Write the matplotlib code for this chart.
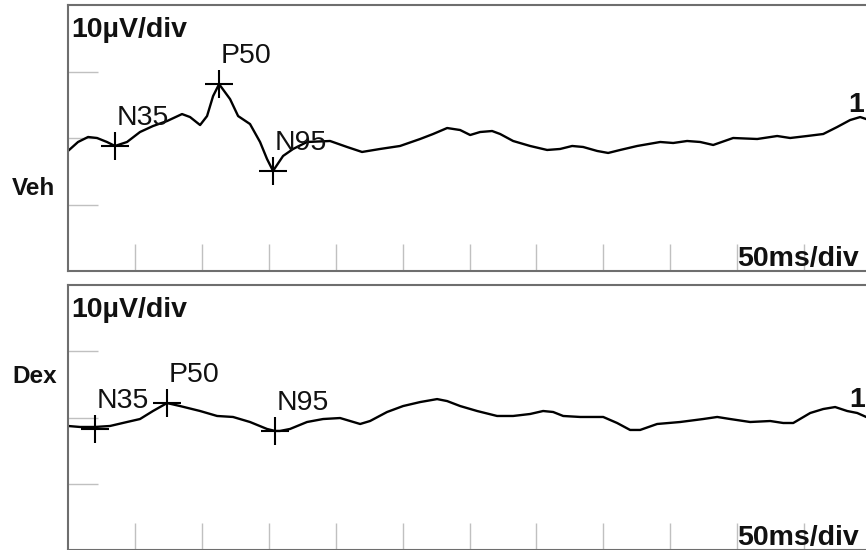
import matplotlib
matplotlib.use("Agg")
import matplotlib.pyplot as plt

plt.rcParams["font.family"] = ["Liberation Sans", "DejaVu Sans"]

# ---------------- data (time in ms, amplitude in µV) ----------------
veh_t = [0, 7.5, 15, 21.7, 29.1, 35.1, 44.1, 53.8, 63.5, 74, 85.2, 91.2, 98.7,
         103.9, 108.4, 112.9, 121.1, 127.1, 136, 143.5, 148.7, 153.2, 160.7,
         168.2, 178.6, 195.8, 208.5, 219.7, 233.2, 248.1, 263.1, 272.8, 283.3,
         293, 300.5, 307.9, 316.9, 322.9, 332.6, 345.3, 358, 367.7, 376.7,
         384.9, 395.4, 403.6, 412.6, 425.3, 442.5, 452.2, 462.6, 472.4, 482.1,
         497, 515, 529.9, 539.6, 552.3, 564.3, 574.7, 584.4, 591.9, 596.4, 600]
veh_v = [-1.95, -0.6, 0.15, 0.0, -0.6, -1.2, -0.6, 0.9, 1.8, 2.55, 3.6, 3.15,
         1.95, 3.3, 6.3, 8.1, 5.85, 3.3, 2.1, -0.6, -3.15, -4.95, -2.7, -1.65,
         -0.6, -0.45, -1.35, -2.1, -1.65, -1.2, -0.15, 0.6, 1.5, 1.2, 0.45,
         0.9, 1.05, 0.6, -0.45, -1.2, -1.8, -1.65, -1.2, -1.35, -1.95, -2.25,
         -1.8, -1.2, -0.6, -0.75, -0.45, -0.6, -1.05, 0.0, -0.15, 0.3, 0.0,
         0.3, 0.6, 1.65, 2.7, 3.15, 2.85, 2.5]

dex_t = [0, 9, 20.2, 31.4, 44.1, 53.8, 63.5, 74, 83.7, 98.7, 111.4, 123.3, 136,
         148.7, 154.7, 158.4, 165.9, 178.6, 190.6, 203.3, 210.8, 218.3, 225.7,
         238.4, 250.4, 263.1, 275.8, 283.3, 293, 305.7, 320.6, 332.6, 345.3,
         355, 362.5, 370, 382.7, 387.9, 399.9, 410.3, 420, 427.5, 440.2, 457.4,
         474.6, 485.1, 494.8, 509.7, 524.7, 534.4, 541.9, 554.6, 564.3, 573.2,
         582.2, 589.7, 596.4, 600]
dex_v = [-1.28, -1.43, -1.43, -1.28, -0.68, -0.23, 0.98, 2.18, 1.73, 0.98,
         0.23, 0.08, -0.68, -1.73, -2.03, -2.03, -1.73, -0.68, -0.23, -0.08,
         -0.53, -0.98, -0.53, 0.83, 1.73, 2.33, 2.78, 2.48, 1.73, 0.98, 0.23,
         0.23, 0.53, 0.98, 0.83, 0.23, 0.08, 0.08, 0.08, -0.83, -1.88, -1.88,
         -0.98, -0.68, -0.23, 0.08, -0.23, -0.68, -0.53, -0.83, -0.83, 0.68,
         1.28, 1.58, 0.98, 0.68, 0.08, -0.2]

peak_names = ["N35", "P50", "N95"]
veh_peak_t = [35.1, 112.9, 153.2]
veh_peak_v = [-1.2, 8.1, -4.95]
dex_peak_t = [20.2, 74, 154.7]
dex_peak_v = [-1.7, 2.2, -2.1]

group_labels = ["Veh", "Dex"]
xticks_ms = [50, 100, 150, 200, 250, 300, 350, 400, 450, 500, 550]
yticks_uv = [-10, 0, 10]

# ---------------- layout ----------------
W, H = 866, 550
fig = plt.figure(figsize=(W / 100, H / 100), dpi=100)


def px_rect(left, top, right, bottom):
    return [left / W, 1 - bottom / H, (right - left) / W, (bottom - top) / H]


ax1 = fig.add_axes(px_rect(68, 5, 871, 271))
ax2 = fig.add_axes(px_rect(68, 285, 871, 550))

TXT = "#111111"
FS = 20.5
panels = [
    (ax1, veh_t, veh_v, veh_peak_t, veh_peak_v, group_labels[0], 195),
    (ax2, dex_t, dex_v, dex_peak_t, dex_peak_v, group_labels[1], 383),
]

for ax, t, v, pt, pv, glabel, gy in panels:
    ax.set_xlim(0, 600)
    ax.set_ylim(-20, 20)
    ax.plot(t, v, color="black", lw=1.7, solid_joinstyle="round")
    ax.plot(pt, pv, linestyle="none", marker="+", markersize=20,
            markeredgewidth=1.5, color="black")
    for name, x, y in zip(peak_names, pt, pv):
        ax.annotate(name, xy=(x, y), xytext=(2, 21), textcoords="offset pixels",
                    ha="left", va="baseline", fontsize=FS, color=TXT)
    ax.set_xticks(xticks_ms)
    ax.set_yticks(yticks_uv)
    ax.tick_params(axis="x", direction="in", length=19.4, width=1,
                   color="#c0c0c0", labelbottom=False, bottom=True, top=False)
    ax.tick_params(axis="y", direction="in", length=21.6, width=1,
                   color="#c0c0c0", labelleft=False, left=True, right=False)
    for s in ax.spines.values():
        s.set_color("#6e6e6e")
        s.set_linewidth(1.5)
    ax.annotate("10µV/div", xy=(0, 1), xycoords="axes fraction",
                xytext=(3, -32), textcoords="offset pixels",
                ha="left", va="baseline", fontsize=FS, fontweight="bold",
                color=TXT)
    ax.annotate("50ms/div", xy=(500, 0), xycoords=("data", "axes fraction"),
                xytext=(0, 5), textcoords="offset pixels",
                ha="left", va="baseline", fontsize=FS, fontweight="bold",
                color=TXT)
    fig.text(12 / W, 1 - gy / H, glabel, ha="left", va="baseline",
             fontsize=17.5, fontweight="bold", color=TXT)

# partially visible labels at right edge
ax1.annotate("1", xy=(584.4, 2.7), xytext=(-2, 8), textcoords="offset pixels",
             ha="left", va="baseline", fontsize=FS, fontweight="bold", color=TXT)
ax2.annotate("1", xy=(573.2, 1.58), xytext=(14, 0), textcoords="offset pixels",
             ha="left", va="baseline", fontsize=FS, fontweight="bold", color=TXT)

fig.savefig("out.png", dpi=100)
